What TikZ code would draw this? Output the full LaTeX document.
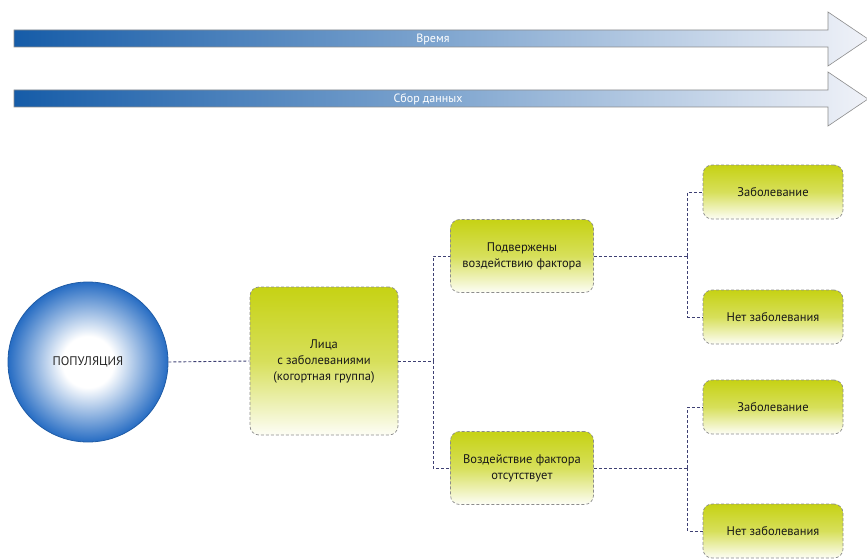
\documentclass[tikz,border=0pt]{standalone}
\usepackage{fontspec}
\setmainfont{PT Sans}
\usetikzlibrary{positioning,calc}
\definecolor{ArrBlue}{RGB}{22,92,168}
\definecolor{ArrPale}{RGB}{240,242,248}
\definecolor{PopBlue}{RGB}{38,108,195}
\definecolor{BoxYel}{RGB}{198,210,20}
\definecolor{LinkC}{RGB}{62,64,115}
\pgfdeclareradialshading{popshade}{\pgfpoint{0bp}{0bp}}{color(0bp)=(white); color(8bp)=(white); color(25bp)=(PopBlue); color(50bp)=(PopBlue)}
\tikzset{
  timearr/.style={draw=black!45,line width=0.6pt,left color=ArrBlue,
                  right color=ArrPale,middle color=ArrBlue!55!white},
  arrlbl/.style={text=white,font=\fontsize{12}{14}\selectfont},
  popnode/.style={circle,draw=PopBlue!85!black,line width=0.8pt,shading=popshade,
                  minimum size=160pt,font=\fontsize{12.5}{14}\selectfont,text=black!85},
  ybox/.style={rounded corners=9pt,draw=black!45,dash pattern=on 3pt off 2pt,
               line width=0.7pt,top color=BoxYel,bottom color=BoxYel!4!white,
               middle color=BoxYel!70!white,align=center,inner sep=2pt,
               font=\fontsize{12.5}{16}\selectfont,text=black!90},
  lbox/.style={ybox,minimum width=148pt,minimum height=148pt},
  mbox/.style={ybox,minimum width=143pt,minimum height=73pt},
  sbox/.style={ybox,minimum width=140pt,minimum height=54pt},
  link/.style={LinkC,line width=0.9pt,dash pattern=on 3pt off 2pt},
}
\begin{document}
\begin{tikzpicture}[x=1pt,y=-1pt]
  \useasboundingbox (0,0) rectangle (867,559);
  % time arrows
  \path[timearr] (14,30) -- (828,30) -- (828,12) -- (868,39) -- (828,66)
                 -- (828,47) -- (14,47) -- cycle;
  \node[arrlbl] (time) at (433,39) {Время};
  \path[timearr] (14,90) -- (828,90) -- (828,72) -- (868,99) -- (828,126)
                 -- (828,107) -- (14,107) -- cycle;
  \node[arrlbl] (data) at (428,99) {Сбор данных};
  % nodes
  \node[popnode] (pop) at (88,362) {ПОПУЛЯЦИЯ};
  \node[lbox] (cohort) at (324,361) {Лица\\с заболеваниями\\(когортная группа)};
  \node[mbox] (expo) at (522,256) {Подвержены\\воздействию фактора};
  \node[mbox] (noexpo) at (522,468) {Воздействие фактора\\отсутствует};
  \node[sbox] (d1) at (773,192) {Заболевание};
  \node[sbox] (n1) at (773,317) {Нет заболевания};
  \node[sbox] (d2) at (773,407) {Заболевание};
  \node[sbox] (n2) at (773,531) {Нет заболевания};
  % connectors
  \draw[link] (pop.east) -- (cohort.west);
  \draw[link] (cohort.east) -- ++(35,0) coordinate (j1);
  \draw[link] (j1) |- (expo.west);
  \draw[link] (j1) |- (noexpo.west);
  \draw[link] (expo.east) -- ++(94,0) coordinate (j2);
  \draw[link] (j2) |- (d1.west);
  \draw[link] (j2) |- (n1.west);
  \draw[link] (noexpo.east) -- ++(94,0) coordinate (j3);
  \draw[link] (j3) |- (d2.west);
  \draw[link] (j3) |- (n2.west);
\end{tikzpicture}
\end{document}
